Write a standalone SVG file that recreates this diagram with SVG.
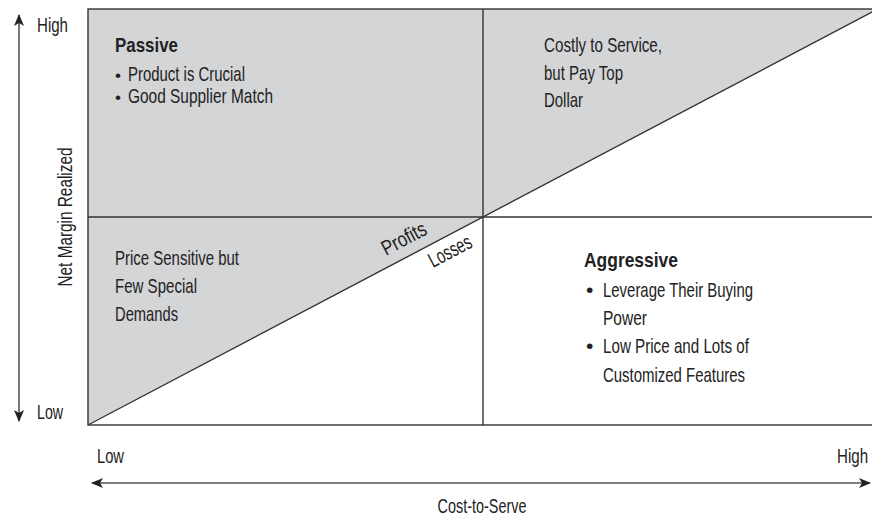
<svg xmlns="http://www.w3.org/2000/svg" width="872" height="520" viewBox="0 0 872 520">
  <style>
    .t { font-family: "Liberation Sans", Arial, sans-serif; font-size: 21px; fill: #222; }
    .b { font-family: "Liberation Sans", Arial, sans-serif; font-size: 21px; font-weight: bold; fill: #222; }
    .s { font-family: "Liberation Sans", Arial, sans-serif; font-size: 17px; fill: #222; }
    .frame { fill: none; stroke: #333; stroke-width: 1.4; }
    .axis { fill: none; stroke: #555; stroke-width: 1.6; }
  </style>
  <defs>
    <marker id="ah" viewBox="0 0 12 10" refX="11" refY="5" markerWidth="12" markerHeight="10" markerUnits="userSpaceOnUse" orient="auto-start-reverse">
      <path d="M0,0 L12,5 L0,10 L3,5 Z" fill="#222"/>
    </marker>
  </defs>
  <rect width="872" height="520" fill="#fff"/>

  <g id="chart">
    <polygon points="88,9 874,9 874,12 88,425" fill="#d4d5d7"/>
    <rect class="frame" x="88" y="9" width="790" height="416"/>
    <line class="frame" x1="483" y1="9" x2="483" y2="425"/>
    <line class="frame" x1="88" y1="217" x2="874" y2="217"/>
    <line class="frame" x1="88" y1="425" x2="874" y2="11"/>
  </g>

  <g id="connectors">
    <line class="axis" x1="19" y1="15" x2="19" y2="421" marker-start="url(#ah)" marker-end="url(#ah)"/>
    <line class="axis" x1="92" y1="483" x2="870" y2="483" marker-start="url(#ah)" marker-end="url(#ah)"/>
  </g>

  <g id="axis-labels">
    <text class="t" x="37" y="32" textLength="31" lengthAdjust="spacingAndGlyphs">High</text>
    <text class="t" x="37" y="419" textLength="26" lengthAdjust="spacingAndGlyphs">Low</text>
    <text class="t" x="97" y="463" textLength="27" lengthAdjust="spacingAndGlyphs">Low</text>
    <text class="t" transform="translate(837,463) scale(0.72,1)" x="0" y="0">High</text>
    <text class="t" x="482" y="513" text-anchor="middle" textLength="89" lengthAdjust="spacingAndGlyphs">Cost-to-Serve</text>
    <text class="t" transform="translate(72,217) rotate(-90)" x="0" y="0" text-anchor="middle" textLength="139" lengthAdjust="spacingAndGlyphs">Net Margin Realized</text>
  </g>

  <g id="passive">
    <text class="b" x="115" y="52" textLength="63" lengthAdjust="spacingAndGlyphs">Passive</text>
    <text class="s" x="115" y="81">•</text>
    <text class="t" x="128" y="81" textLength="117" lengthAdjust="spacingAndGlyphs">Product is Crucial</text>
    <text class="s" x="115" y="103">•</text>
    <text class="t" x="128" y="103" textLength="145" lengthAdjust="spacingAndGlyphs">Good Supplier Match</text>
  </g>

  <g id="costly">
    <text class="t" x="544" y="52" textLength="118" lengthAdjust="spacingAndGlyphs">Costly to Service,</text>
    <text class="t" x="544" y="80" textLength="79" lengthAdjust="spacingAndGlyphs">but Pay Top</text>
    <text class="t" x="544" y="107" textLength="39" lengthAdjust="spacingAndGlyphs">Dollar</text>
  </g>

  <g id="price-sensitive">
    <text class="t" x="115" y="265" textLength="124" lengthAdjust="spacingAndGlyphs">Price Sensitive but</text>
    <text class="t" x="115" y="293" textLength="82" lengthAdjust="spacingAndGlyphs">Few Special</text>
    <text class="t" x="115" y="321" textLength="63" lengthAdjust="spacingAndGlyphs">Demands</text>
  </g>

  <g id="aggressive">
    <text class="b" x="584" y="267" textLength="94" lengthAdjust="spacingAndGlyphs">Aggressive</text>
    <text class="t" x="586" y="297">•</text>
    <text class="t" x="603" y="297" textLength="150" lengthAdjust="spacingAndGlyphs">Leverage Their Buying</text>
    <text class="t" x="603" y="325" textLength="44" lengthAdjust="spacingAndGlyphs">Power</text>
    <text class="t" x="586" y="353">•</text>
    <text class="t" x="603" y="353" textLength="146" lengthAdjust="spacingAndGlyphs">Low Price and Lots of</text>
    <text class="t" x="603" y="382" textLength="142" lengthAdjust="spacingAndGlyphs">Customized Features</text>
  </g>

  <g id="diagonal-labels">
    <text class="t" transform="translate(386,256) rotate(-27.8)" x="0" y="0" textLength="48" lengthAdjust="spacingAndGlyphs">Profits</text>
    <text class="t" transform="translate(433,268) rotate(-27.8)" x="0" y="0" textLength="46" lengthAdjust="spacingAndGlyphs">Losses</text>
  </g>
</svg>
